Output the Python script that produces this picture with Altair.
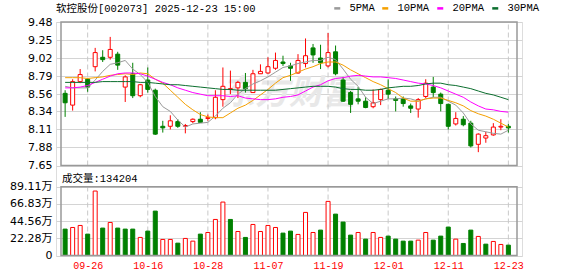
import altair as alt
import pandas as pd

# ---------------- data ----------------
dates = ["09-23","09-24","09-25","09-26","09-29","09-30","10-09","10-10","10-13","10-14",
         "10-15","10-16","10-17","10-20","10-21","10-22","10-23","10-24","10-27","10-28",
         "10-29","10-30","10-31","11-03","11-04","11-05","11-06","11-07","11-10","11-11",
         "11-12","11-13","11-14","11-17","11-18","11-19","11-20","11-21","11-24","11-25",
         "11-26","11-27","11-28","12-01","12-02","12-03","12-04","12-05","12-08","12-09",
         "12-10","12-11","12-12","12-15","12-16","12-17","12-18","12-19","12-22","12-23"]

opens = [8.57,8.42,8.72,8.75,8.91,9.03,9.03,9.07,8.65,8.82,
         8.54,8.74,8.61,8.15,8.15,8.21,8.15,8.21,8.24,8.25,
         8.26,8.49,8.62,8.64,8.71,8.58,8.82,8.83,8.89,8.97,
         8.92,8.83,8.95,9.15,9.02,8.92,9.10,8.74,8.58,8.50,
         8.47,8.40,8.49,8.61,8.50,8.50,8.41,8.37,8.53,8.65,
         8.56,8.43,8.18,8.24,8.19,7.92,8.00,8.04,8.14,8.15]
highs = [8.61,8.75,8.88,8.76,9.15,9.12,9.29,9.10,8.80,8.96,
         8.69,8.90,8.63,8.22,8.29,8.24,8.18,8.25,8.33,8.30,
         8.61,8.90,8.86,8.73,8.83,8.87,8.94,9.03,9.09,9.05,
         8.96,9.07,9.27,9.20,9.19,9.34,9.18,8.78,8.60,8.65,
         8.52,8.62,8.63,8.75,8.53,8.53,8.44,8.51,8.75,8.78,
         8.58,8.44,8.33,8.28,8.22,8.06,8.08,8.19,8.24,8.18]
lows = [8.27,8.35,8.70,8.59,8.85,8.97,9.00,8.87,8.46,8.51,
        8.52,8.58,8.04,8.07,8.11,8.13,8.06,8.19,8.20,8.22,
        8.24,8.40,8.56,8.51,8.58,8.58,8.82,8.82,8.87,8.92,
        8.73,8.82,8.90,8.96,8.88,8.90,8.80,8.46,8.32,8.43,
        8.38,8.38,8.42,8.50,8.34,8.40,8.32,8.26,8.51,8.52,
        8.34,8.11,8.16,8.15,7.88,7.82,7.94,8.03,8.10,8.07]
closes = [8.45,8.72,8.81,8.65,9.09,9.00,9.13,8.93,8.78,8.54,
          8.68,8.62,8.05,8.13,8.22,8.15,8.16,8.24,8.20,8.26,
          8.52,8.66,8.63,8.71,8.63,8.82,8.85,8.91,8.99,8.95,
          8.89,8.99,9.05,9.06,8.96,9.09,8.82,8.47,8.43,8.47,
          8.39,8.45,8.62,8.56,8.48,8.44,8.38,8.49,8.70,8.58,
          8.44,8.15,8.25,8.17,7.90,8.05,8.03,8.14,8.15,8.13]

# volume in 万 (10k shares)
volumes = [34.2,36.3,38.9,27.7,83.5,35.5,42.8,35.5,34.2,34.2,
           23.4,31.6,57.5,20.8,20.8,16.0,22.1,18.6,27.7,29.8,
           46.7,69.2,46.7,31.1,23.4,40.2,31.1,38.9,36.3,29.0,
           31.6,27.3,55.8,29.8,32.9,70.1,53.6,43.3,26.4,29.8,
           21.2,29.8,23.4,25.1,21.2,18.6,18.6,19.9,29.8,19.9,
           25.1,36.8,21.2,15.6,32.9,24.7,14.7,18.2,14.3,13.42]
vol_up = [0,1,1,0,1,0,1,0,0,0, 1,0,0,1,1,0,1,1,0,1,
          1,1,0,1,0,1,1,1,1,0, 0,1,1,1,0,1,0,0,0,1,
          0,1,1,0,0,0,0,1,1,0, 0,0,1,0,0,1,0,1,1,0]

ma5 = [8.66,8.64,8.64,8.64,8.74,8.85,8.94,8.96,8.99,8.88,
       8.81,8.71,8.53,8.40,8.34,8.23,8.14,8.18,8.19,8.20,
       8.28,8.38,8.45,8.56,8.63,8.69,8.73,8.78,8.84,8.90,
       8.92,8.95,8.97,8.99,8.99,9.03,9.00,8.88,8.75,8.66,
       8.52,8.44,8.47,8.50,8.50,8.51,8.50,8.47,8.50,8.52,
       8.52,8.47,8.42,8.32,8.18,8.10,8.08,8.06,8.05,8.10]
ma10 = [8.77,8.77,8.77,8.76,8.77,8.78,8.80,8.81,8.82,8.81,
        8.83,8.82,8.75,8.70,8.61,8.52,8.43,8.36,8.30,8.27,
        8.26,8.26,8.32,8.38,8.42,8.48,8.55,8.62,8.70,8.77,
        8.80,8.84,8.88,8.91,8.95,8.97,8.97,8.93,8.87,8.82,
        8.77,8.72,8.68,8.63,8.58,8.51,8.47,8.47,8.50,8.51,
        8.51,8.48,8.45,8.41,8.35,8.31,8.28,8.24,8.19,8.14]
ma20 = [8.64,8.64,8.65,8.67,8.71,8.75,8.79,8.82,8.83,8.83,
        8.82,8.79,8.75,8.71,8.68,8.64,8.61,8.58,8.56,8.54,
        8.54,8.54,8.53,8.54,8.51,8.50,8.49,8.49,8.50,8.52,
        8.53,8.55,8.60,8.65,8.68,8.73,8.76,8.77,8.79,8.80,
        8.79,8.78,8.78,8.77,8.76,8.74,8.72,8.70,8.69,8.67,
        8.64,8.60,8.56,8.52,8.46,8.41,8.37,8.36,8.34,8.33]
ma30 = [8.71,8.71,8.71,8.71,8.71,8.72,8.72,8.72,8.72,8.72,
        8.71,8.71,8.70,8.69,8.68,8.68,8.67,8.66,8.65,8.64,
        8.63,8.62,8.62,8.61,8.61,8.61,8.61,8.61,8.61,8.62,
        8.63,8.64,8.65,8.66,8.66,8.66,8.65,8.63,8.62,8.62,
        8.61,8.61,8.62,8.64,8.65,8.66,8.66,8.67,8.69,8.70,
        8.70,8.68,8.67,8.65,8.63,8.60,8.57,8.55,8.52,8.49]

ma_names = ["5PMA", "10PMA", "20PMA", "30PMA"]
ma_colors = ["#9a9a9a", "#f5a000", "#ff00ff", "#0b6e2e"]

price_ticks = [7.65, 7.88, 8.11, 8.34, 8.56, 8.79, 9.02, 9.25, 9.48]
vol_ticks = [0, 22.28, 44.56, 66.83, 89.11]
date_ticks = [3, 11, 19, 27, 35, 43, 51, 59]
x_domain = [-0.55, 60.15]
price_domain = [7.65, 9.48]
vol_domain = [0, 89.11]

title_text = "软控股份[002073] 2025-12-23 15:00"
vol_label = "成交量:134204"
watermark = "东方财富"

RED = "#ff0000"
GREEN = "#008000"
MONO = "Liberation Mono, Noto Sans CJK SC"

# ---------------- tables ----------------
n = len(dates)
df = pd.DataFrame({"i": list(range(n)), "date": dates, "open": opens, "high": highs,
                   "low": lows, "close": closes, "vol": volumes, "vol_up": vol_up})
ma_df = pd.DataFrame([{"i": k, "series": name, "value": vals[k]}
                      for name, vals in zip(ma_names, [ma5, ma10, ma20, ma30])
                      for k in range(n)])
pgrid_df = pd.DataFrame({"i": date_ticks, "y0": price_domain[0], "y1": price_domain[1]})
vgrid_df = pd.DataFrame({"i": date_ticks, "y0": vol_domain[0], "y1": vol_domain[1]})
pbox_df = pd.DataFrame({"x0": [x_domain[0]], "x1": [x_domain[1]],
                        "y0": [price_domain[0]], "y1": [price_domain[1]]})
vbox_df = pd.DataFrame({"x0": [x_domain[0]], "x1": [x_domain[1]],
                        "y0": [vol_domain[0]], "y1": [vol_domain[1]]})
wm_df = pd.DataFrame({"x": [sum(x_domain) / 2], "y": [sum(price_domain) / 2], "t": [watermark]})
vlab_df = pd.DataFrame({"x": [x_domain[0]], "y": [vol_domain[1]], "t": [vol_label]})

# ---------------- scales / axes ----------------
label_js = "[" + ",".join("'%s'" % d for d in dates) + "]"
x_axis = alt.Axis(values=date_ticks, labelExpr=label_js + "[datum.value]", grid=False,
                  ticks=False, domain=False, labelColor=RED, labelFont="Liberation Mono",
                  labelFontSize=10, labelPadding=4, title=None, labelAngle=0,
                  labelFlush=False, labelOverlap=False)
price_axis = alt.Axis(values=price_ticks, format=".2f", orient="left", grid=True,
                      gridColor="#d4d4d4", ticks=False, domain=False,
                      labelFont="DejaVu Sans", labelFontSize=11, labelColor="#000000",
                      labelPadding=4, title=None, labelFlush=False, labelOverlap=False)
vol_axis = alt.Axis(values=vol_ticks,
                    labelExpr="datum.value == 0 ? '0' : format(datum.value, '.2f') + '万'",
                    orient="left", grid=True, gridColor="#d4d4d4", ticks=False, domain=False,
                    labelFont="DejaVu Sans, Noto Sans CJK SC", labelFontSize=11,
                    labelColor="#000000", labelPadding=4, title=None, labelFlush=False,
                    labelOverlap=False)

xs = alt.Scale(domain=x_domain, nice=False, zero=False)
ps = alt.Scale(domain=price_domain, range=[143.5, 0], nice=False, zero=False)
vs = alt.Scale(domain=vol_domain, range=[233.5, 164.7], nice=False, zero=False)


def X(f):
    return alt.X(f, type="quantitative", scale=xs, axis=x_axis)


def YP(f):
    return alt.Y(f, type="quantitative", scale=ps, axis=price_axis)


def YV(f):
    return alt.Y(f, type="quantitative", scale=vs, axis=vol_axis)


up_expr = "datum.close >= datum.open"

# ---------------- price panel ----------------
wm = alt.Chart(wm_df).mark_text(font="Noto Sans CJK SC", fontSize=34, fontWeight="bold",
                                fontStyle="italic", color="#e8e8e8").encode(
    x=X("x"), y=YP("y"), text="t:N")
pgrid = alt.Chart(pgrid_df).mark_rule(color="#c8c8c8", strokeDash=[5, 3], strokeWidth=1).encode(
    x=X("i"), y=YP("y0"), y2="y1")
wicks = alt.Chart(df).mark_rule(strokeWidth=1).encode(
    x=X("i"), y=YP("low"), y2="high",
    color=alt.when(up_expr).then(alt.value(RED)).otherwise(alt.value(GREEN)))
bodies = alt.Chart(df).mark_bar(size=4, strokeWidth=1).encode(
    x=X("i"), y=YP("open"), y2="close",
    fill=alt.when(up_expr).then(alt.value("#ffffff")).otherwise(alt.value(GREEN)),
    stroke=alt.when(up_expr).then(alt.value(RED)).otherwise(alt.value(GREEN)))
legend = alt.Legend(orient="none", legendX=276, legendY=-19, direction="horizontal",
                    title=None, symbolType="stroke", symbolSize=36, symbolStrokeWidth=2.5,
                    labelFont="Liberation Mono", labelFontSize=10.5, labelColor="#000000",
                    labelOffset=7, columnPadding=2, padding=0)
lines = alt.Chart(ma_df).mark_line(strokeWidth=1).encode(
    x=X("i"), y=YP("value"),
    color=alt.Color("series:N", scale=alt.Scale(domain=ma_names, range=ma_colors),
                    legend=legend, sort=ma_names))
pbox = alt.Chart(pbox_df).mark_rect(fillOpacity=0, stroke="#999999", strokeWidth=1.5).encode(
    x=X("x0"), x2="x1", y=YP("y0"), y2="y1")
price = alt.layer(wm, pgrid, wicks, bodies, lines, pbox)

# ---------------- volume panel ----------------
vgrid = alt.Chart(vgrid_df).mark_rule(color="#c8c8c8", strokeDash=[5, 3], strokeWidth=1).encode(
    x=X("i"), y=YV("y0"), y2="y1")
vbars = alt.Chart(df).mark_bar(size=4, strokeWidth=1).encode(
    x=X("i"), y=YV("vol"),
    fill=alt.when("datum.vol_up == 1").then(alt.value("#ffffff")).otherwise(alt.value(GREEN)),
    stroke=alt.when("datum.vol_up == 1").then(alt.value(RED)).otherwise(alt.value(GREEN)))
vlab = alt.Chart(vlab_df).mark_text(align="left", baseline="alphabetic", dx=1, dy=-5,
                                    font=MONO, fontSize=10.5, color="#000000").encode(
    x=X("x"), y=YV("y"), text="t:N")
vbox = alt.Chart(vbox_df).mark_rect(fillOpacity=0, stroke="#999999", strokeWidth=1.5).encode(
    x=X("x0"), x2="x1", y=YV("y0"), y2="y1")
volume = alt.layer(vgrid, vbars, vlab, vbox)

chart = alt.layer(price, volume).resolve_scale(y="independent").properties(
    width=466, height=234,
    padding={"left": 56, "top": 22, "right": 56, "bottom": 20},
    autosize=alt.AutoSizeParams(type="none"),
    title=alt.TitleParams(title_text, anchor="start", frame="group", font=MONO,
                          fontSize=10.5, fontWeight="normal", color="#000000",
                          offset=8, dy=19),
).configure_view(strokeWidth=0).configure(background="#ffffff")

chart.save("out.html", embed_options={"renderer": "svg", "actions": False})
